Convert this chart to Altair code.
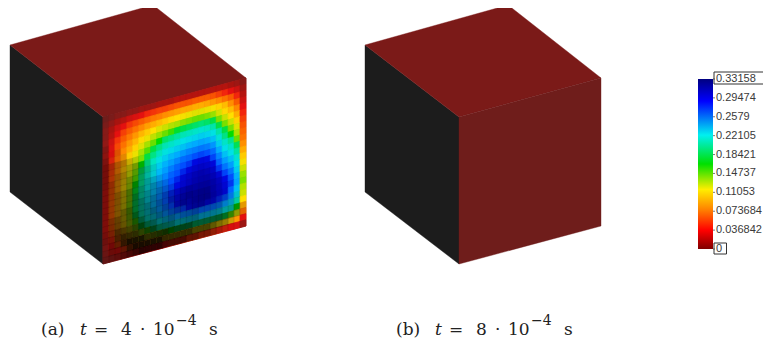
import altair as alt

# Cube outlines, read in picture pixels
cube_a = {"left": [[10,45],[103,117],[103,264],[10,192]],
          "top": [[10,45],[153,5],[246,78],[103,117]],
          "front": [[103,117],[246,78],[246,226],[103,264]]}
cube_b = {"left": [[365,45],[459,117],[459,264],[365,192]],
          "top": [[365,45],[508,5],[601,78],[459,117]],
          "front": [[459,117],[601,78],[601,226],[459,264]]}
face_colors = {"left": "#1c1c1c", "top": "#7b1a18", "front": "#6f1d1b"}

# Field on the front face of cube (a), percent of the maximum
field = [
[0,1,2,2,3,3,4,4,4,5,5,5,6,6,6,6,6,6,6,6,6,5,4,2],
[1,3,5,6,8,9,10,12,13,14,14,15,16,16,16,17,17,17,16,14,12,10,8,4],
[2,5,8,10,13,15,17,19,21,22,24,25,26,27,27,28,28,27,25,23,20,17,12,6],
[2,6,10,14,17,20,23,26,28,30,32,34,35,36,37,38,38,37,36,33,30,24,17,8],
[3,8,13,17,21,25,29,32,35,38,40,42,43,45,46,47,47,46,44,39,34,30,23,10],
[3,9,15,20,25,29,34,37,41,44,47,49,51,52,53,54,55,54,52,46,40,35,28,12],
[4,11,17,23,28,33,38,43,47,50,54,56,58,60,61,62,63,62,59,52,46,40,33,14],
[4,12,19,25,32,37,43,48,52,56,60,62,64,67,68,69,70,69,66,59,52,46,38,16],
[5,13,21,27,34,40,46,52,56,61,65,68,70,72,74,75,76,75,72,64,56,50,42,18],
[5,14,22,30,37,43,50,56,61,66,70,73,75,78,80,81,82,81,78,70,62,57,47,20],
[5,15,23,31,39,46,53,59,64,70,74,77,80,83,84,86,87,86,83,75,67,62,53,24],
[5,15,25,33,41,48,56,62,67,73,77,81,84,86,88,90,91,90,87,80,72,67,58,28],
[6,16,25,34,42,50,57,64,70,75,80,84,86,89,91,93,94,93,91,84,77,72,63,32],
[6,16,26,35,44,51,59,66,72,78,82,86,89,92,94,96,97,96,94,88,82,77,67,36],
[6,17,26,35,44,52,60,67,73,78,83,87,90,93,95,97,98,98,96,92,87,82,70,40],
[6,17,27,36,45,53,61,68,74,80,85,89,92,95,97,99,100,100,98,95,90,86,74,44],
[6,17,27,36,45,53,61,68,74,80,85,89,92,95,97,99,100,100,99,96,92,88,76,46],
[6,17,26,35,44,52,60,67,73,78,83,87,90,93,95,97,98,98,97,94,90,84,72,42],
[6,16,25,33,42,49,57,63,69,74,79,83,86,88,90,92,93,93,92,89,86,80,68,40],
[5,14,23,30,38,45,51,57,62,67,71,75,77,80,81,83,84,84,83,81,77,72,60,35],
[4,12,19,26,32,38,44,49,53,58,61,64,66,68,70,71,72,72,71,69,66,62,50,28],
[3,10,15,20,25,30,34,38,41,45,48,50,52,53,54,55,56,56,55,54,52,48,39,20],
[2,6,10,13,16,19,22,24,27,29,31,32,33,34,35,36,36,36,36,35,33,31,25,10],
[1,2,4,5,6,7,8,9,10,10,11,12,12,12,13,13,13,13,13,12,12,11,9,4],
]

# Darkening of the same cells, tenths of full black
shade = [
"000000000000000000000000",
"000000000000000000000000",
"000000000000000000000000",
"000000000000000000000000",
"000000000000000000000000",
"100000000000000000000000",
"111000000000000000000000",
"211100000000000000000000",
"333321000000000000000000",
"333333210000000000000000",
"334433321000000000000000",
"344443321000000000000000",
"344444332100000000000000",
"345554433210000000000000",
"345555443321000000000000",
"345555544332111000000000",
"345665554433222111000000",
"356666555443332222111000",
"356666655544433332222110",
"357777766555444433332210",
"357888777666555544443331",
"256899988887777666665431",
"245689999988888777654200",
"234567888877776655432100",
]

field_stops = [0, 5, 11, 22, 35, 50, 67, 90, 100]
field_colors = ["#6f1d1b", "#a8140f", "#f01010", "#ff8000", "#ffe000",
                "#00dd00", "#00e0e8", "#0008e0", "#000098"]

bar_min, bar_max = 0, 0.33158
tick_values = [0.33158, 0.29474, 0.2579, 0.22105, 0.18421, 0.14737, 0.11053, 0.073684, 0.036842, 0]
tick_labels = ["0.33158", "0.29474", "0.2579", "0.22105", "0.18421", "0.14737", "0.11053", "0.073684", "0.036842", "0"]
boxed_ticks = [
    {"x": 714, "x2": 772, "y": 72, "y2": 84},
    {"x": 714, "x2": 726.5, "y": 243, "y2": 254},
]
bar_stops = [
    (0, "#800000"), (0.11, "#ff0000"), (0.23, "#ff8000"), (0.35, "#ffee00"),
    (0.5, "#00e000"), (0.67, "#00f0f0"), (0.87, "#0000ff"), (1, "#000080"),
]

caption_pieces = [
    {"x": 41, "y": 335, "t": "(a)", "s": 17, "i": "normal"},
    {"x": 80, "y": 335, "t": "t", "s": 17, "i": "italic"},
    {"x": 94, "y": 335, "t": "=", "s": 17, "i": "normal"},
    {"x": 121, "y": 335, "t": "4", "s": 17, "i": "normal"},
    {"x": 140, "y": 335, "t": "·", "s": 17, "i": "normal"},
    {"x": 153, "y": 335, "t": "10", "s": 17, "i": "normal"},
    {"x": 176, "y": 325, "t": "−4", "s": 14, "i": "normal"},
    {"x": 209, "y": 335, "t": "s", "s": 17, "i": "normal"},
    {"x": 396, "y": 335, "t": "(b)", "s": 17, "i": "normal"},
    {"x": 435, "y": 335, "t": "t", "s": 17, "i": "italic"},
    {"x": 449, "y": 335, "t": "=", "s": 17, "i": "normal"},
    {"x": 476, "y": 335, "t": "8", "s": 17, "i": "normal"},
    {"x": 495, "y": 335, "t": "·", "s": 17, "i": "normal"},
    {"x": 508, "y": 335, "t": "10", "s": 17, "i": "normal"},
    {"x": 531, "y": 325, "t": "−4", "s": 14, "i": "normal"},
    {"x": 564, "y": 335, "t": "s", "s": 17, "i": "normal"},
]

W, H = 755, 331
proj = dict(type="identity", scale=1, translate=[-8, -8])
xs = alt.Scale(domain=[8, 8 + W])
ys = alt.Scale(domain=[8 + H, 8])
vs = alt.Scale(domain=[bar_min, bar_max], range=[241, 71])


def polygon(points, **props):
    ring = [list(p) for p in points] + [list(points[0])]
    return {"type": "Feature", "properties": props,
            "geometry": {"type": "Polygon", "coordinates": [ring]}}


def front_point(corners, u, v):
    tl, tr, br, bl = corners
    top = [tl[0] + (tr[0] - tl[0]) * u, tl[1] + (tr[1] - tl[1]) * u]
    bot = [bl[0] + (br[0] - bl[0]) * u, bl[1] + (br[1] - bl[1]) * u]
    return [top[0] + (bot[0] - top[0]) * v, top[1] + (bot[1] - top[1]) * v]


faces = []
for cube in (cube_a, cube_b):
    for name, pts in cube.items():
        faces.append(polygon(pts, c=face_colors[name]))

cells = []
nr, nc = len(field), len(field[0])
for r in range(nr):
    for c in range(nc):
        pts = [front_point(cube_a["front"], c / nc, r / nr),
               front_point(cube_a["front"], (c + 1) / nc, r / nr),
               front_point(cube_a["front"], (c + 1) / nc, (r + 1) / nr),
               front_point(cube_a["front"], c / nc, (r + 1) / nr)]
        cells.append(polygon(pts, t=field[r][c], d=int(shade[r][c])))

face_layer = alt.Chart(alt.Data(values=faces)).mark_geoshape(strokeWidth=0.4).encode(
    fill=alt.Fill("properties.c:N", scale=None),
    stroke=alt.Stroke("properties.c:N", scale=None),
).project(**proj)

color_scale = alt.Scale(domain=field_stops, range=field_colors)
cell_layer = alt.Chart(alt.Data(values=cells)).mark_geoshape(strokeWidth=0.8).encode(
    fill=alt.Fill("properties.t:Q", scale=color_scale, legend=None),
    stroke=alt.Stroke("properties.t:Q", scale=color_scale, legend=None),
).project(**proj)

shade_layer = alt.Chart(alt.Data(values=cells)).mark_geoshape(
    fill="#000000", stroke="#000000", strokeWidth=0.3
).encode(
    opacity=alt.Opacity("properties.d:Q", scale=alt.Scale(domain=[0, 10], range=[0, 1]), legend=None),
).project(**proj)

bar = alt.Chart(alt.Data(values=[{"a": bar_min, "b": bar_max}])).mark_rect(
    fill=alt.Gradient(gradient="linear", x1=0, x2=0, y1=1, y2=0,
                      stops=[alt.GradientStop(offset=o, color=c) for o, c in bar_stops])
).encode(
    x=alt.value(690), x2=alt.value(705),
    y=alt.Y("a:Q", scale=vs, axis=None), y2="b:Q",
)

tick_data = alt.Data(values=[{"v": v, "l": l} for v, l in zip(tick_values, tick_labels)])
ticks = alt.Chart(tick_data).mark_rule(color="#777777", strokeWidth=1).encode(
    x=alt.value(705), x2=alt.value(707),
    y=alt.Y("v:Q", scale=vs, axis=None),
)
labels = alt.Chart(tick_data).mark_text(
    align="left", baseline="middle", font="Liberation Sans", fontSize=11, color="#3a3a3a"
).encode(
    x=alt.value(708), y=alt.Y("v:Q", scale=vs, axis=None), text="l:N",
)
boxes = alt.Chart(alt.Data(values=boxed_ticks)).mark_rect(
    fill="transparent", stroke="#333333", strokeWidth=1
).encode(
    x=alt.X("x:Q", scale=xs, axis=None), x2="x2:Q",
    y=alt.Y("y:Q", scale=ys, axis=None), y2="y2:Q",
)

cap_layers = []
for style in ("normal", "italic"):
    cap_layers.append(
        alt.Chart(alt.Data(values=[p for p in caption_pieces if p["i"] == style])).mark_text(
            align="left", baseline="alphabetic", font="DejaVu Serif", fontStyle=style, color="#222222"
        ).encode(
            x=alt.X("x:Q", scale=xs, axis=None),
            y=alt.Y("y:Q", scale=ys, axis=None),
            text="t:N",
            size=alt.Size("s:Q", scale=None),
        )
    )

chart = alt.layer(
    face_layer, cell_layer, shade_layer, bar, ticks, labels, boxes, *cap_layers
).resolve_scale(
    y="independent", x="independent", fill="independent", stroke="independent",
).properties(width=W, height=H, padding=0, background="white", autosize=alt.AutoSizeParams(type="none")
).configure_view(stroke=None)

chart.save("out.html", embed_options={"renderer": "svg", "actions": False})
